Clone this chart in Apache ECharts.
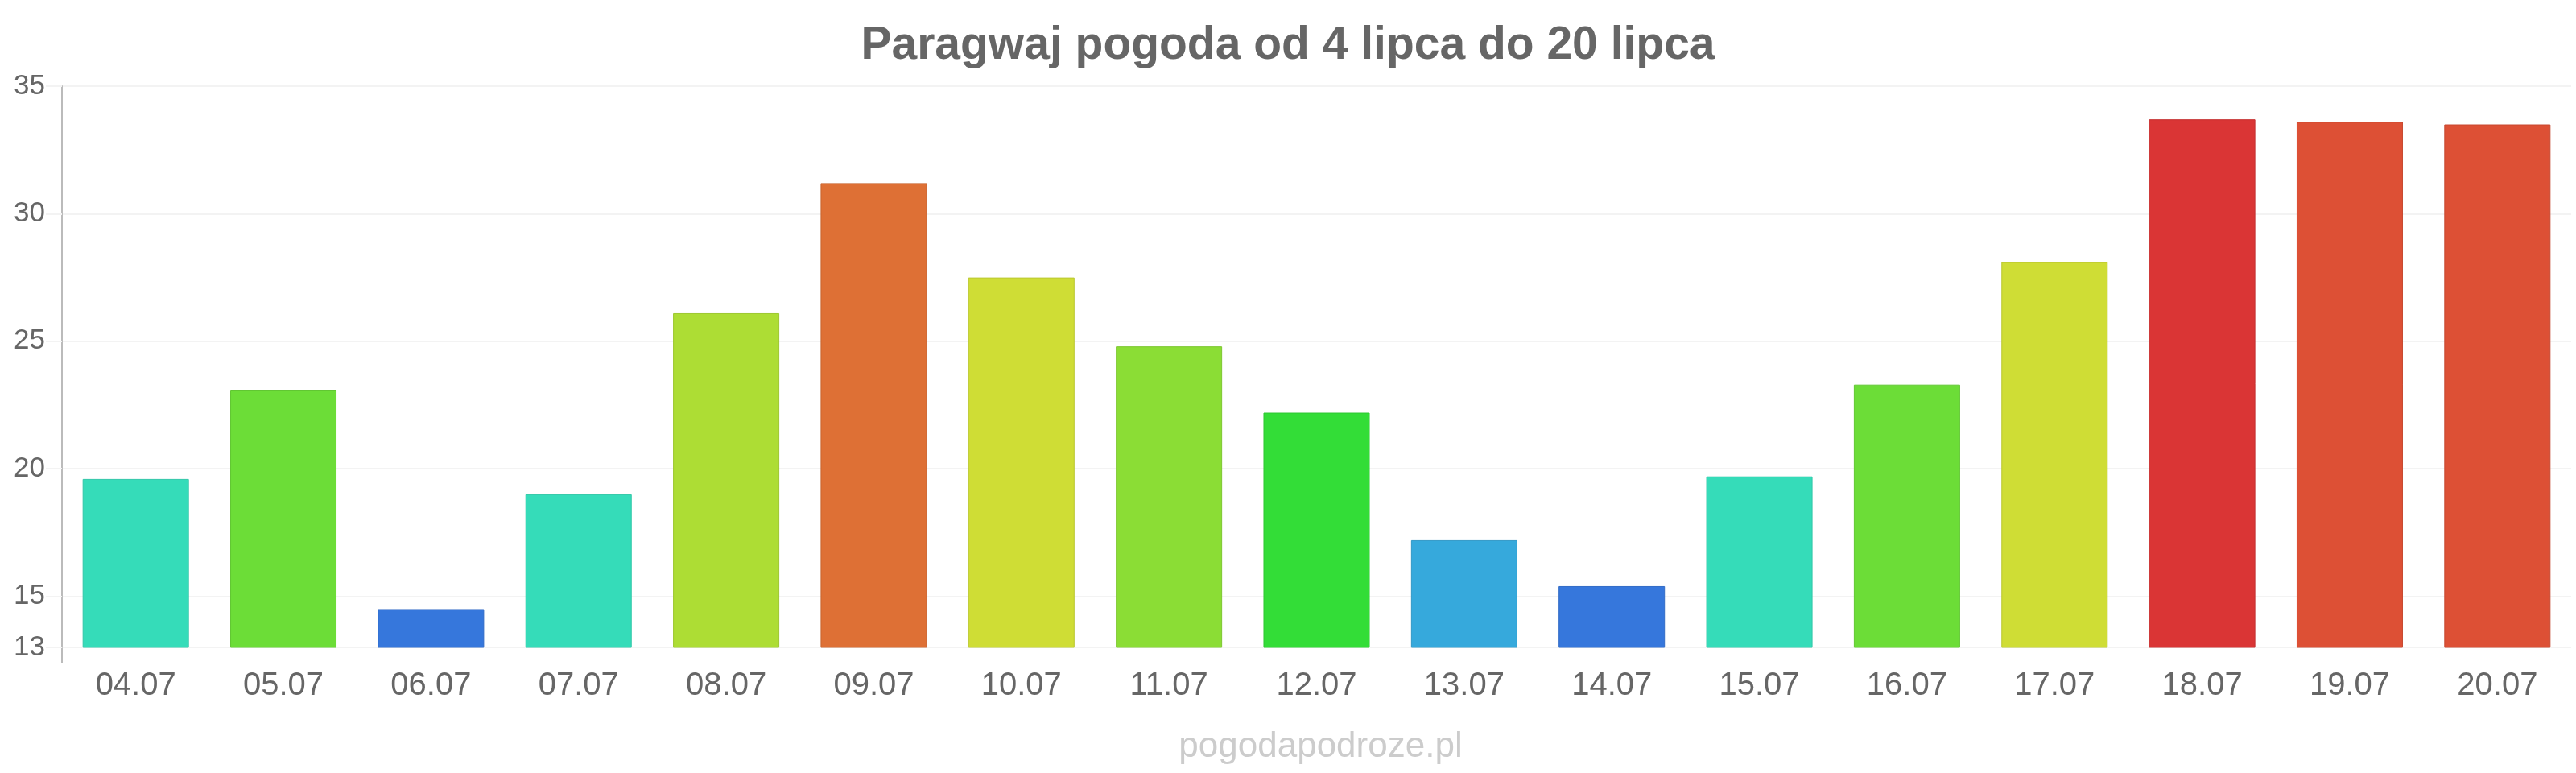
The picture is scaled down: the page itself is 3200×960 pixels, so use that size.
<!DOCTYPE html>
<html>
<head>
<meta charset="utf-8">
<title>Paragwaj pogoda</title>
<script src="https://cdn.jsdelivr.net/npm/echarts@6/dist/echarts.min.js"></script>
<style>
  html, body { margin: 0; padding: 0; background: #fff; }
  #main { width: 3200px; height: 960px; }
</style>
</head>
<body>
<div id="main"></div>
<script>
// dane: dni i temperatury (°C)
const days = ["04.07", "05.07", "06.07", "07.07", "08.07", "09.07", "10.07", "11.07", "12.07",
  "13.07", "14.07", "15.07", "16.07", "17.07", "18.07", "19.07", "20.07"];
const temps = [19.6, 23.1, 14.5, 19.0, 26.1, 31.2, 27.5, 24.8, 22.2,
  17.2, 15.4, 19.7, 23.3, 28.1, 33.7, 33.6, 33.5];
const titleText = "Paragwaj pogoda od 4 lipca do 20 lipca";
const watermark = "pogodapodroze.pl";

// skala kolorow wg temperatury (gorna granica -> kolor)
const colorScale = [
  [16, "#3677dc"],
  [18, "#36a9dc"],
  [21, "#35dcb9"],
  [22.7, "#33dd37"],
  [24, "#6cdd37"],
  [25.5, "#8bdd35"],
  [27, "#addd34"],
  [30, "#cfdd35"],
  [32.5, "#de7035"],
  [33.65, "#dd5035"],
  [Infinity, "#da3535"]
];
function colorFor(t) {
  for (const [limit, c] of colorScale) {
    if (t < limit) return c;
  }
  return "#da3535";
}
// ciemniejsza ramka slupka
function darken(hex, k) {
  const n = parseInt(hex.slice(1), 16);
  const r = Math.round(((n >> 16) & 255) * k);
  const g = Math.round(((n >> 8) & 255) * k);
  const b = Math.round((n & 255) * k);
  return "rgb(" + r + "," + g + "," + b + ")";
}

const FONT = "'Liberation Sans', Arial, sans-serif";
const GRID = { left: 77, right: 6, top: 107, bottom: 156 };

const myChart = echarts.init(document.getElementById("main"));

const barData = temps.map(function (t) {
  const c = colorFor(t);
  return {
    value: t,
    itemStyle: { color: c, borderColor: darken(c, 0.9), borderWidth: 1 }
  };
});

const options = {
  backgroundColor: "#fff",
  animation: false,
  title: [
    {
      text: titleText,
      left: "center",
      top: 24,
      textStyle: { color: "#666", fontSize: 57, fontWeight: "bold", fontFamily: FONT }
    },
    {
      // podpis strony pod wykresem, wysrodkowany na obszarze wykresu
      text: watermark,
      left: GRID.left + (3200 - GRID.left - GRID.right) / 2,
      textAlign: "center",
      top: 901,
      textStyle: { color: "#ccc", fontSize: 44, fontWeight: "normal", fontFamily: FONT }
    }
  ],
  grid: GRID,
  xAxis: {
    type: "category",
    data: days,
    boundaryGap: true,
    axisLine: { show: false },
    axisTick: { show: false },
    axisLabel: { color: "#666", fontSize: 40, margin: 28, fontFamily: FONT }
  },
  yAxis: {
    type: "value",
    min: 13,
    max: 35,
    splitNumber: 5,
    axisLine: { show: true, lineStyle: { color: "#bbb", width: 2 } },
    axisTick: { show: true, length: 20, lineStyle: { color: "#f3f3f3", width: 2 } },
    splitLine: { show: true, lineStyle: { color: "#f3f3f3", width: 2 } },
    axisLabel: { color: "#666", fontSize: 35, margin: 21, fontFamily: FONT }
  },
  series: [
    {
      type: "bar",
      data: barData,
      barCategoryGap: "28%"
    }
  ],
  // przedluzenie osi Y ponizej siatki
  graphic: [
    {
      type: "line",
      shape: {
        x1: GRID.left, y1: 960 - GRID.bottom,
        x2: GRID.left, y2: 960 - GRID.bottom + 19
      },
      style: { stroke: "#bbb", lineWidth: 2 },
      silent: true
    }
  ]
};

myChart.setOption(options);
</script>
</body>
</html>
